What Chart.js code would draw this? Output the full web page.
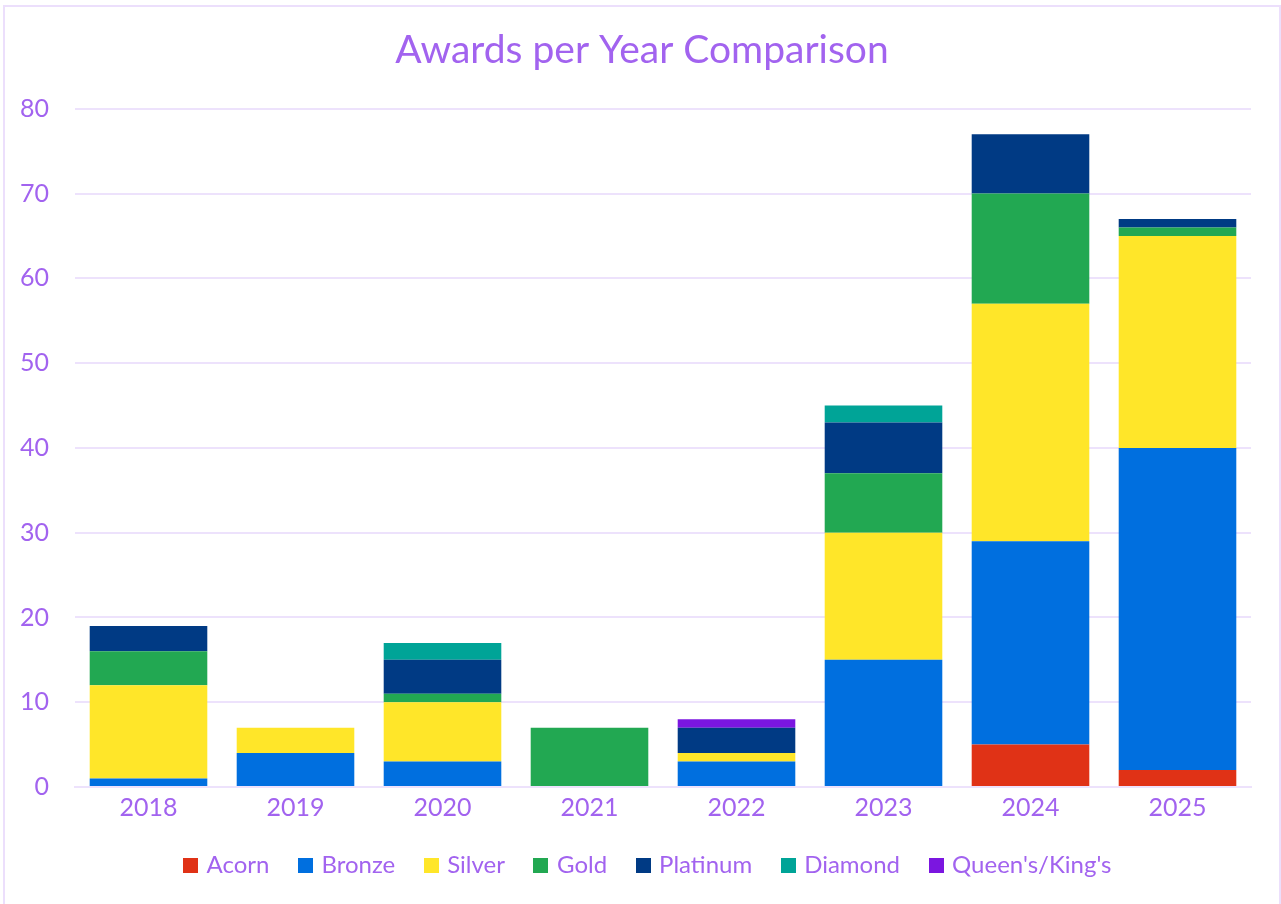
<!DOCTYPE html>
<html>
<head>
<meta charset="utf-8">
<script src="https://cdn.jsdelivr.net/npm/chart.js@4"></script>
<style>
  body { margin: 0; background: #fff; overflow: hidden; }
  .card { position: absolute; left: 3px; top: 5px; width: 1274px; height: 930px; border: 2px solid #ecdffc; background: #fff; }
</style>
</head>
<body>
<div class="card"><canvas id="awardsChart" width="1274" height="920"></canvas></div>
<script>
const years = ['2018', '2019', '2020', '2021', '2022', '2023', '2024', '2025'];
const acorn    = [0, 0, 0, 0, 0, 0, 5, 2];
const bronze   = [1, 4, 3, 0, 3, 15, 24, 38];
const silver   = [11, 3, 7, 0, 1, 15, 28, 25];
const gold     = [4, 0, 1, 7, 0, 7, 13, 1];
const platinum = [3, 0, 4, 0, 3, 6, 7, 1];
const diamond  = [0, 0, 2, 0, 0, 2, 0, 0];
const queens   = [0, 0, 0, 0, 1, 0, 0, 0];

const purple = '#a263ef';
const gridColor = '#ede2fc';

// small square swatches for the legend (keeps the gap to the text tight)
function swatch(color) {
    const c = document.createElement('canvas');
    c.width = 15; c.height = 15;
    const g = c.getContext('2d');
    g.fillStyle = color;
    g.fillRect(0, 0, 15, 15);
    return c;
}

// nudge title and legend a little to the right, like the original
const nudge = {
    id: 'nudge',
    afterLayout(chart) {
        chart.legend.left += 15;
        chart.legend.right += 15;
        chart.titleBlock.left += 8;
        chart.titleBlock.right += 8;
    }
};

const ctx = document.getElementById('awardsChart').getContext('2d');
const awardsChart = new Chart(ctx, {
    type: 'bar',
    data: {
        labels: years,
        datasets: [
            { label: 'Acorn', data: acorn, backgroundColor: '#e03216' },
            { label: 'Bronze', data: bronze, backgroundColor: '#006fdf' },
            { label: 'Silver', data: silver, backgroundColor: '#ffe629' },
            { label: 'Gold', data: gold, backgroundColor: '#22a852' },
            { label: 'Platinum', data: platinum, backgroundColor: '#003a84' },
            { label: 'Diamond', data: diamond, backgroundColor: '#00a497' },
            { label: "Queen's/King's", data: queens, backgroundColor: '#7b16e0' }
        ]
    },
    options: {
        responsive: false,
        animation: false,
        layout: { padding: { left: 12, right: 28, top: 20, bottom: 40 } },
        datasets: { bar: { barPercentage: 0.8, categoryPercentage: 1.0, borderWidth: 0 } },
        plugins: {
            title: {
                display: true,
                text: 'Awards per Year Comparison',
                color: purple,
                font: { family: 'Lato', size: 39, weight: 'normal' },
                padding: { top: 0, bottom: 35 }
            },
            legend: {
                position: 'bottom',
                labels: {
                    color: purple,
                    font: { family: 'Lato', size: 24 },
                    usePointStyle: true,
                    pointStyleWidth: 8,
                    boxHeight: 15,
                    padding: 32,
                    generateLabels: (chart) =>
                        Chart.defaults.plugins.legend.labels.generateLabels(chart).map((item) => ({
                            ...item,
                            pointStyle: swatch(item.fillStyle)
                        }))
                }
            },
            tooltip: { enabled: false }
        },
        scales: {
            x: {
                stacked: true,
                grid: { display: false },
                border: { color: gridColor, width: 2 },
                ticks: { color: purple, font: { family: 'Lato', size: 25, lineHeight: 0.88 }, padding: 2 }
            },
            y: {
                stacked: true,
                min: 0,
                max: 80,
                afterFit: (scale) => { scale.width = 58; },
                grid: { color: gridColor, lineWidth: 2, drawTicks: false },
                border: { display: false },
                ticks: { stepSize: 10, color: purple, font: { family: 'Lato', size: 25 }, padding: 26 }
            }
        }
    },
    plugins: [nudge]
});
</script>
</body>
</html>
